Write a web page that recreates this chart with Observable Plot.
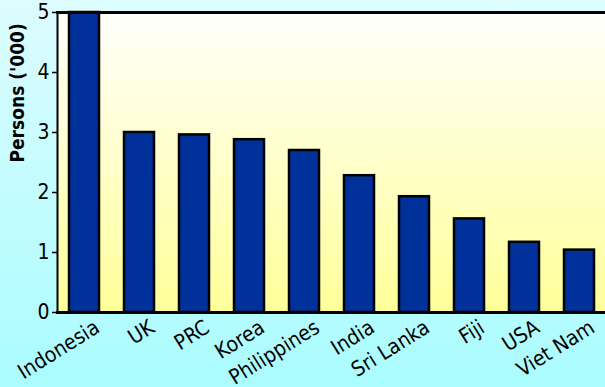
<!DOCTYPE html>
<html>
<head>
<meta charset="utf-8">
<script src="https://cdn.jsdelivr.net/npm/d3@7"></script>
<script src="https://cdn.jsdelivr.net/npm/@observablehq/plot@0.6"></script>
<style>
  html, body { margin: 0; padding: 0; }
  #chart {
    width: 605px; height: 387px; overflow: hidden;
    background: linear-gradient(to bottom, #ddfcff 0%, #aafcff 100%);
  }
  #chart svg { display: block; background: transparent; }
</style>
</head>
<body>
<div id="chart"></div>
<script>
// Country of origin and persons (thousands)
const countries = ["Indonesia", "UK", "PRC", "Korea", "Philippines", "India", "Sri Lanka", "Fiji", "USA", "Viet Nam"];
const persons = [5.0, 3.0, 2.96, 2.88, 2.70, 2.28, 1.93, 1.56, 1.17, 1.04];
const yTicks = [0, 1, 2, 3, 4, 5];

const data = countries.map((c, i) => ({country: c, value: persons[i]}));
const font = "'DejaVu Sans Condensed', 'DejaVu Sans', sans-serif";

const chart = Plot.plot({
  width: 605,
  height: 387,
  marginLeft: 57,
  marginRight: 0,
  marginTop: 12,
  marginBottom: 75,
  style: {fontFamily: font, fontSize: "20px", color: "#000", background: "transparent"},
  x: {domain: countries, range: [57, 607], paddingInner: 0.45, paddingOuter: 0.225, align: 0.5},
  y: {domain: [0, 5]},
  marks: [
    Plot.frame({fill: "#ffffcc", stroke: "none"}),
    Plot.barY(data, {x: "country", y: "value", fill: "#00309a", stroke: "#000", strokeWidth: 2.5}),
    Plot.frame({anchor: "top", stroke: "#000", strokeWidth: 3}),
    Plot.frame({anchor: "left", stroke: "#000", strokeWidth: 2}),
    Plot.frame({anchor: "bottom", stroke: "#000", strokeWidth: 3}),
    Plot.axisY(yTicks, {tickSize: 5, tickPadding: 3, tickFormat: "d", strokeWidth: 1.5, fontSize: 21, label: null}),
    Plot.axisX({tickSize: 0, tickRotate: -32, tickPadding: 0, dx: 13, dy: 13, fontSize: 21, label: null}),
    Plot.text(["Persons ('000)"], {frameAnchor: "left", rotate: -90, dx: -40, fontWeight: "bold", fontSize: 19})
  ]
});

// Vertical gradient for the plotting area
const svg = d3.select(chart);
const grad = svg.insert("defs", ":first-child").append("linearGradient")
  .attr("id", "plotbg").attr("x1", 0).attr("y1", 0).attr("x2", 0).attr("y2", 1);
grad.append("stop").attr("offset", "0%").attr("stop-color", "#fffffc");
grad.append("stop").attr("offset", "100%").attr("stop-color", "#ffff99");
svg.selectAll("[aria-label=frame]").filter(function() { return this.getAttribute("fill") === "#ffffcc"; })
  .attr("fill", "url(#plotbg)");

document.getElementById("chart").appendChild(chart);
</script>
</body>
</html>
